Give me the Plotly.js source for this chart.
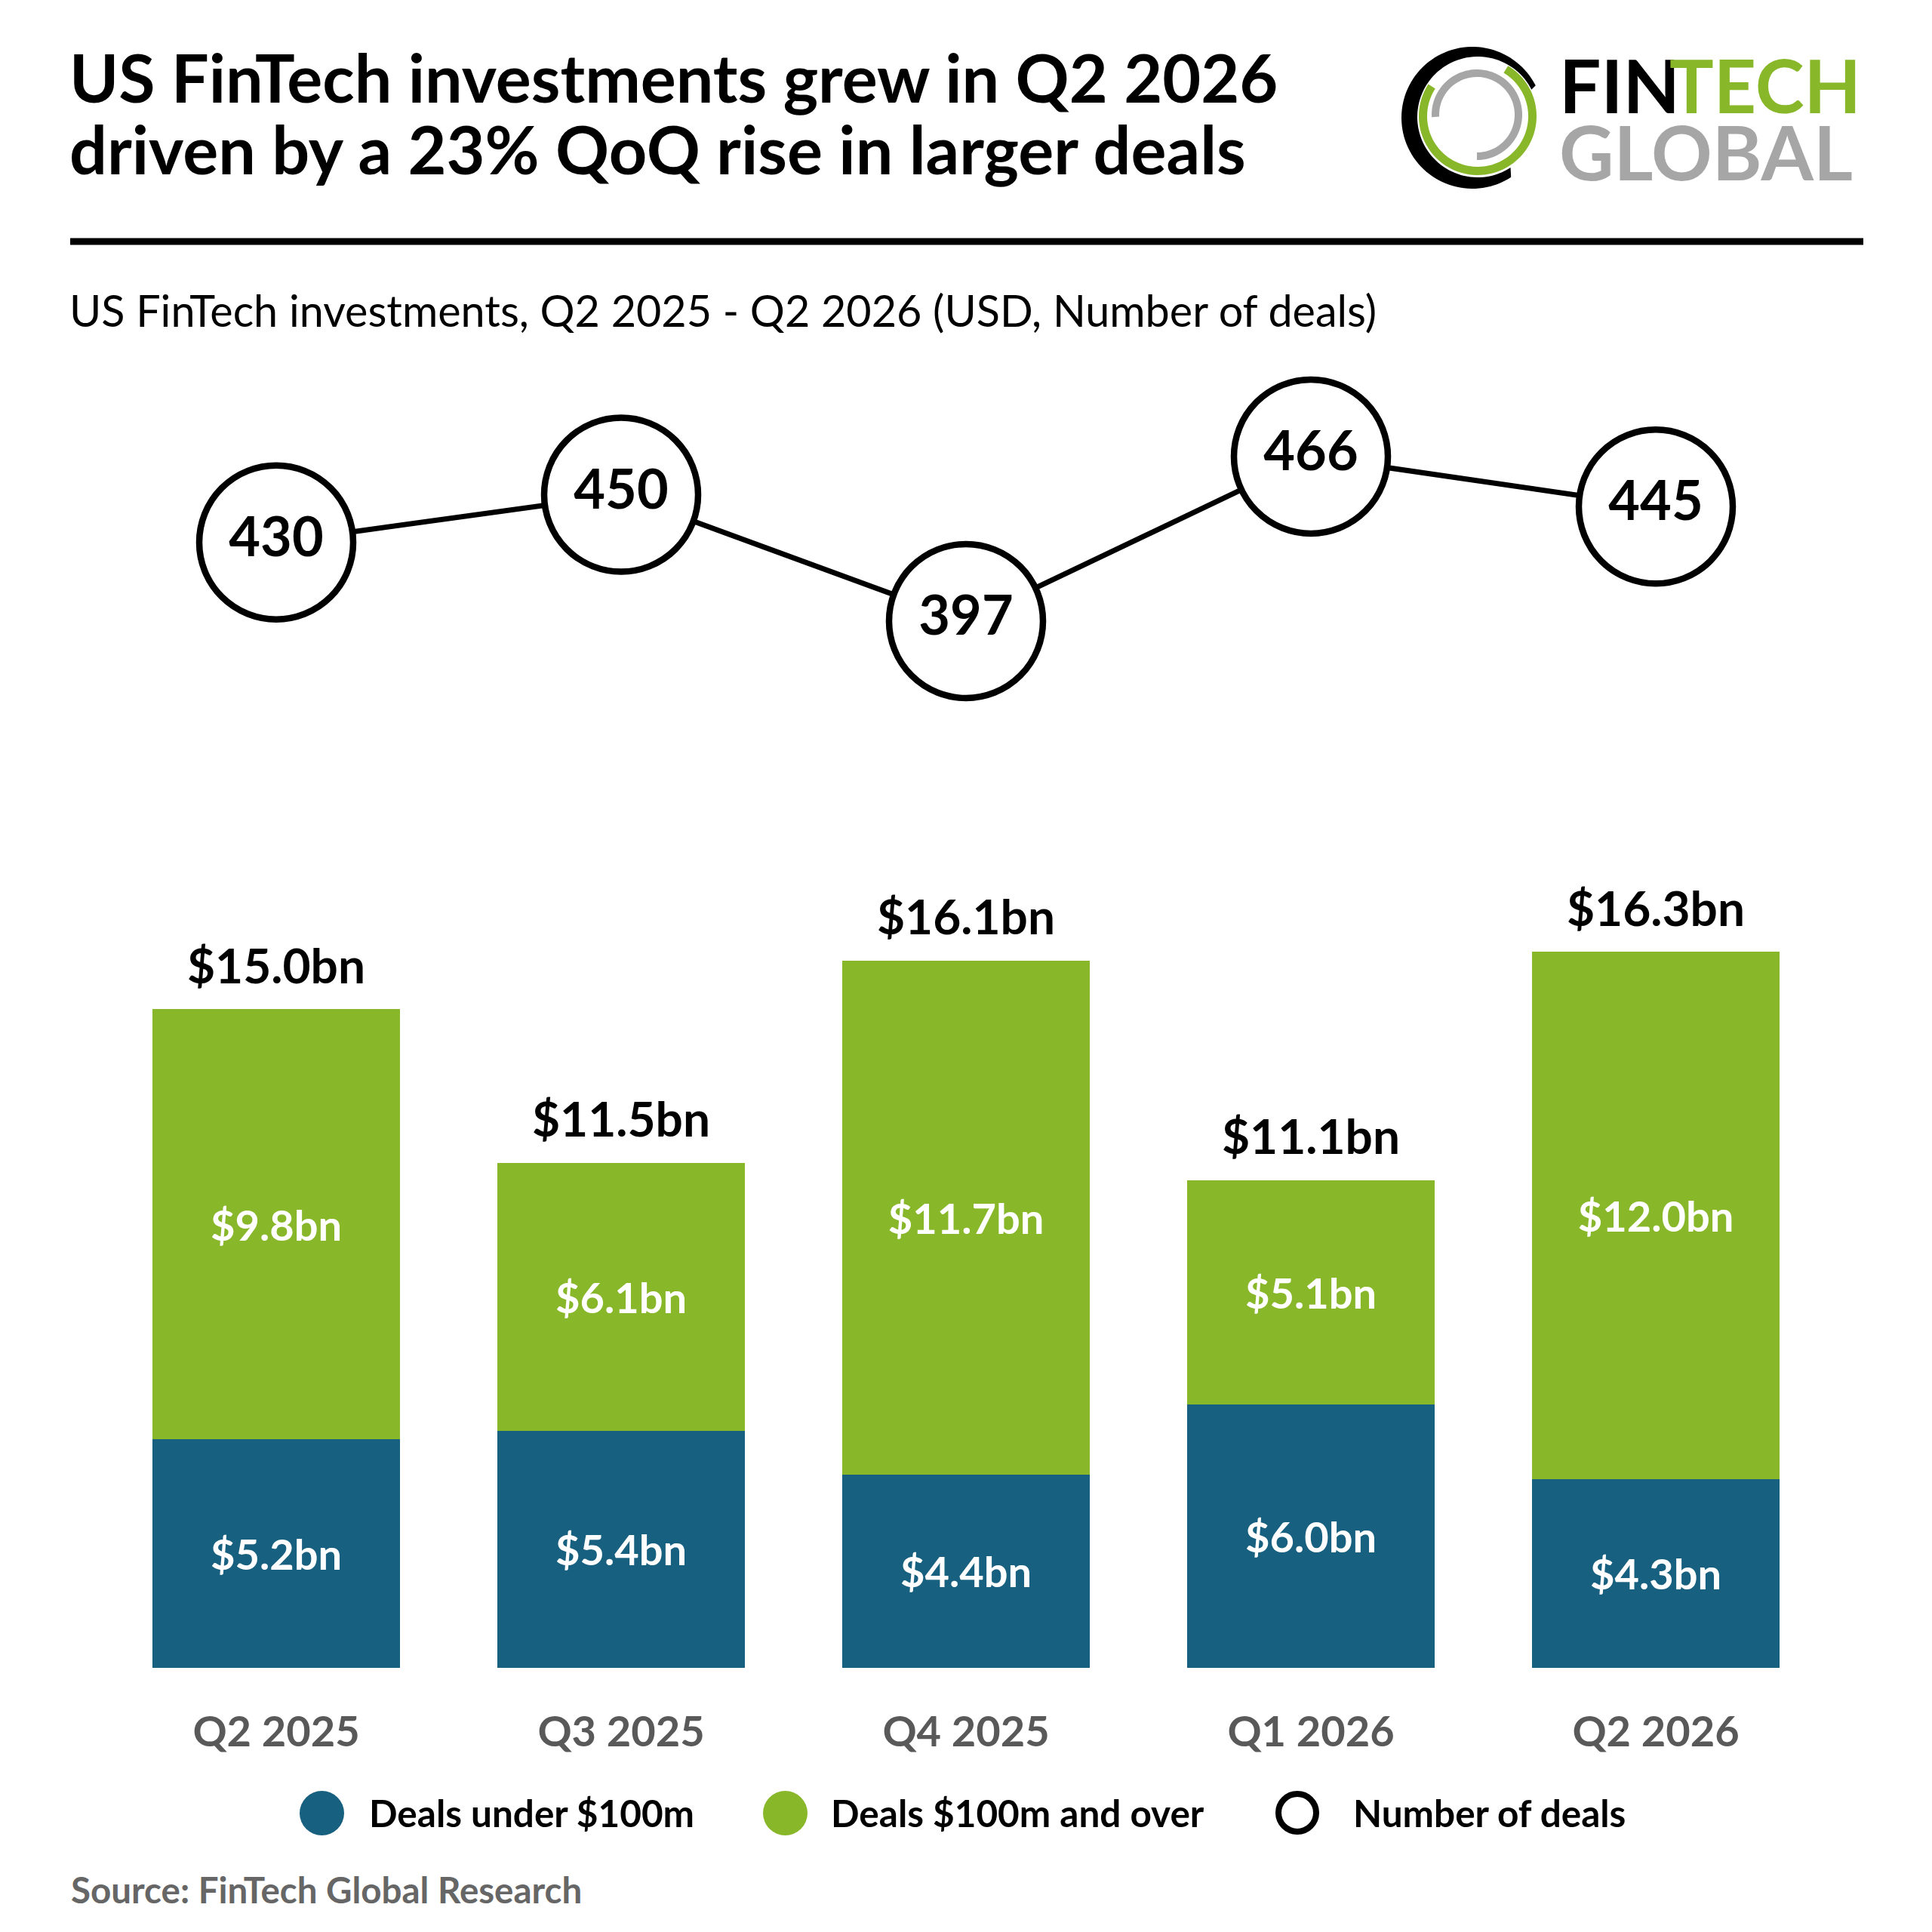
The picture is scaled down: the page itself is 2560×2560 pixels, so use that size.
<!DOCTYPE html>
<html>
<head>
<meta charset="utf-8">
<script src="https://cdn.plot.ly/plotly-3.0.1.min.js"></script>
<style>html,body{margin:0;padding:0;background:#fff;}</style>
</head>
<body>
<div id="chart" style="width:2560px;height:2560px;"></div>
<script>
// US FinTech investments by quarter (USD bn) and number of deals
const quarters = ['Q2 2025', 'Q3 2025', 'Q4 2025', 'Q1 2026', 'Q2 2026'];
const dealsUnder100m = [5.2, 5.4, 4.4, 6.0, 4.3];
const dealsOver100m = [9.8, 6.1, 11.7, 5.1, 12.0];
const totalInvestment = [15.0, 11.5, 16.1, 11.1, 16.3];
const dealCount = [430, 450, 397, 466, 445];

const W = 2560, H = 2560;
const px = x => x / W;
const py = y => 1 - y / H;

const BLUE = '#17607f';
const GREEN = '#89b72a';
const GREY_LOGO = '#a6a6a6';
const FONT = 'Lato, "Open Sans", sans-serif';
const bn = v => '$' + v.toFixed(1) + 'bn';

// ring segment between two circles, for the logo mark
function ringPath(cxO, cyO, rO, cxI, cyI, rI, a0, a1) {
  const n = 90, pts = [];
  for (let i = 0; i <= n; i++) {
    const a = (a0 + (a1 - a0) * i / n) * Math.PI / 180;
    pts.push([px(cxO + rO * Math.cos(a)), py(cyO - rO * Math.sin(a))]);
  }
  for (let i = n; i >= 0; i--) {
    const a = (a0 + (a1 - a0) * i / n) * Math.PI / 180;
    pts.push([px(cxI + rI * Math.cos(a)), py(cyI - rI * Math.sin(a))]);
  }
  return 'M' + pts.map(p => p[0].toFixed(5) + ',' + p[1].toFixed(5)).join('L') + 'Z';
}
function ring(path, color) {
  return {type: 'path', xref: 'paper', yref: 'paper', path: path,
          fillcolor: color, line: {width: 0}, layer: 'above'};
}

const traces = [
  {
    type: 'bar', name: 'Deals under $100m', x: quarters, y: dealsUnder100m,
    marker: {color: BLUE, line: {width: 0}},
    text: dealsUnder100m.map(bn), textposition: 'inside', insidetextanchor: 'middle',
    textangle: 0, insidetextfont: {family: FONT, size: 56, color: '#ffffff', weight: 'bold'},
    hoverinfo: 'skip'
  },
  {
    type: 'bar', name: 'Deals $100m and over', x: quarters, y: dealsOver100m,
    marker: {color: GREEN, line: {width: 0}},
    text: dealsOver100m.map(bn), textposition: 'inside', insidetextanchor: 'middle',
    textangle: 0, insidetextfont: {family: FONT, size: 56, color: '#ffffff', weight: 'bold'},
    hoverinfo: 'skip'
  },
  {
    type: 'scatter', name: 'Total', x: quarters, y: totalInvestment,
    mode: 'markers+text', marker: {size: 28, opacity: 0},
    text: totalInvestment.map(bn), textposition: 'top center',
    textfont: {family: FONT, size: 64, color: '#000000', weight: 'bold'},
    cliponaxis: false, hoverinfo: 'skip'
  },
  {
    type: 'scatter', name: 'Number of deals', x: quarters, y: dealCount,
    xaxis: 'x2', yaxis: 'y2',
    mode: 'lines+markers+text',
    line: {color: '#000000', width: 7},
    marker: {size: 204, color: '#ffffff', line: {color: '#000000', width: 8.5}},
    text: dealCount.map(String), textposition: 'middle center',
    textfont: {family: FONT, size: 72, color: '#000000', weight: 'bold'},
    cliponaxis: false, hoverinfo: 'skip'
  }
];

const xDomain = [px(137.5), px(2422.5)];

const annotations = [
  {text: '<b>US FinTech investments grew in Q2 2026</b>', x: px(90), y: py(102), xanchor: 'left', yanchor: 'middle',
   font: {family: FONT, size: 88, color: '#000000'}},
  {text: '<b>driven by a 23% QoQ rise in larger deals</b>', x: px(90), y: py(197), xanchor: 'left', yanchor: 'middle',
   font: {family: FONT, size: 88, color: '#000000'}},
  {text: 'US FinTech investments, Q2 2025 - Q2 2026 (USD, Number of deals)', x: px(90), y: py(410), xanchor: 'left', yanchor: 'middle',
   font: {family: FONT, size: 57.5, color: '#000000'}},
  {text: '<b>FIN</b>', x: px(2064), y: py(112), xanchor: 'left', yanchor: 'middle',
   font: {family: FONT, size: 98, color: '#000000'}},
  {text: '<b>TECH</b>', x: px(2468), y: py(112), xanchor: 'right', yanchor: 'middle',
   font: {family: FONT, size: 98, color: GREEN}},
  {text: '<b>GLOBAL</b>', x: px(2064), y: py(200), xanchor: 'left', yanchor: 'middle',
   font: {family: FONT, size: 100, color: GREY_LOGO}},
  {text: '<b>Deals under $100m</b>', x: px(487), y: py(2402), xanchor: 'left', yanchor: 'middle',
   font: {family: FONT, size: 49.5, color: '#000000'}},
  {text: '<b>Deals $100m and over</b>', x: px(1099), y: py(2402), xanchor: 'left', yanchor: 'middle',
   font: {family: FONT, size: 49.5, color: '#000000'}},
  {text: '<b>Number of deals</b>', x: px(1791), y: py(2402), xanchor: 'left', yanchor: 'middle',
   font: {family: FONT, size: 49.5, color: '#000000'}},
  {text: '<b>Source: FinTech Global Research</b>', x: px(92), y: py(2503), xanchor: 'left', yanchor: 'middle',
   font: {family: FONT, size: 47.5, color: '#666666'}}
].map(a => Object.assign({xref: 'paper', yref: 'paper', showarrow: false}, a));

const shapes = [
  // rule under the headline
  {type: 'line', xref: 'paper', yref: 'paper', x0: px(93), x1: px(2469), y0: py(320), y1: py(320),
   line: {color: '#000000', width: 9}},
  // legend swatches
  {type: 'circle', xref: 'paper', yref: 'paper', x0: px(397), x1: px(456), y0: py(2432), y1: py(2373),
   fillcolor: BLUE, line: {width: 0}},
  {type: 'circle', xref: 'paper', yref: 'paper', x0: px(1011), x1: px(1070), y0: py(2432), y1: py(2373),
   fillcolor: GREEN, line: {width: 0}},
  {type: 'circle', xref: 'paper', yref: 'paper', x0: px(1694), x1: px(1744), y0: py(2427), y1: py(2377),
   fillcolor: '#ffffff', line: {color: '#000000', width: 8}},
  // logo mark
  ring(ringPath(1951, 156, 94, 1958, 155, 80, 27, 303), '#000000'),
  ring(ringPath(1958, 154, 78, 1958, 154, 67, 147, 419), GREEN),
  ring(ringPath(1957, 152, 60, 1957, 152, 50, 183, -90), GREY_LOGO)
];

const layout = {
  width: W, height: H,
  margin: {l: 0, r: 0, t: 0, b: 0, pad: 0},
  paper_bgcolor: '#ffffff', plot_bgcolor: 'rgba(0,0,0,0)',
  showlegend: false,
  barmode: 'stack', bargap: 0.284,
  xaxis: {
    type: 'category', domain: xDomain, range: [-0.5, 4.5], anchor: 'y',
    showgrid: false, zeroline: false, showline: false, ticks: '',
    tickfont: {family: FONT, size: 56, color: '#595959', weight: 'bold'},
    ticklabelstandoff: 47, fixedrange: true
  },
  yaxis: {domain: [py(2210), py(1046)], range: [0, 20], visible: false, fixedrange: true},
  xaxis2: {
    type: 'category', domain: xDomain, range: [-0.5, 4.5], anchor: 'y2',
    visible: false, fixedrange: true
  },
  yaxis2: {domain: [py(971.5), py(497.5)], range: [350, 500], anchor: 'x2', visible: false, fixedrange: true},
  annotations: annotations,
  shapes: shapes
};

Plotly.newPlot('chart', traces, layout, {staticPlot: true, displayModeBar: false});
</script>
</body>
</html>
